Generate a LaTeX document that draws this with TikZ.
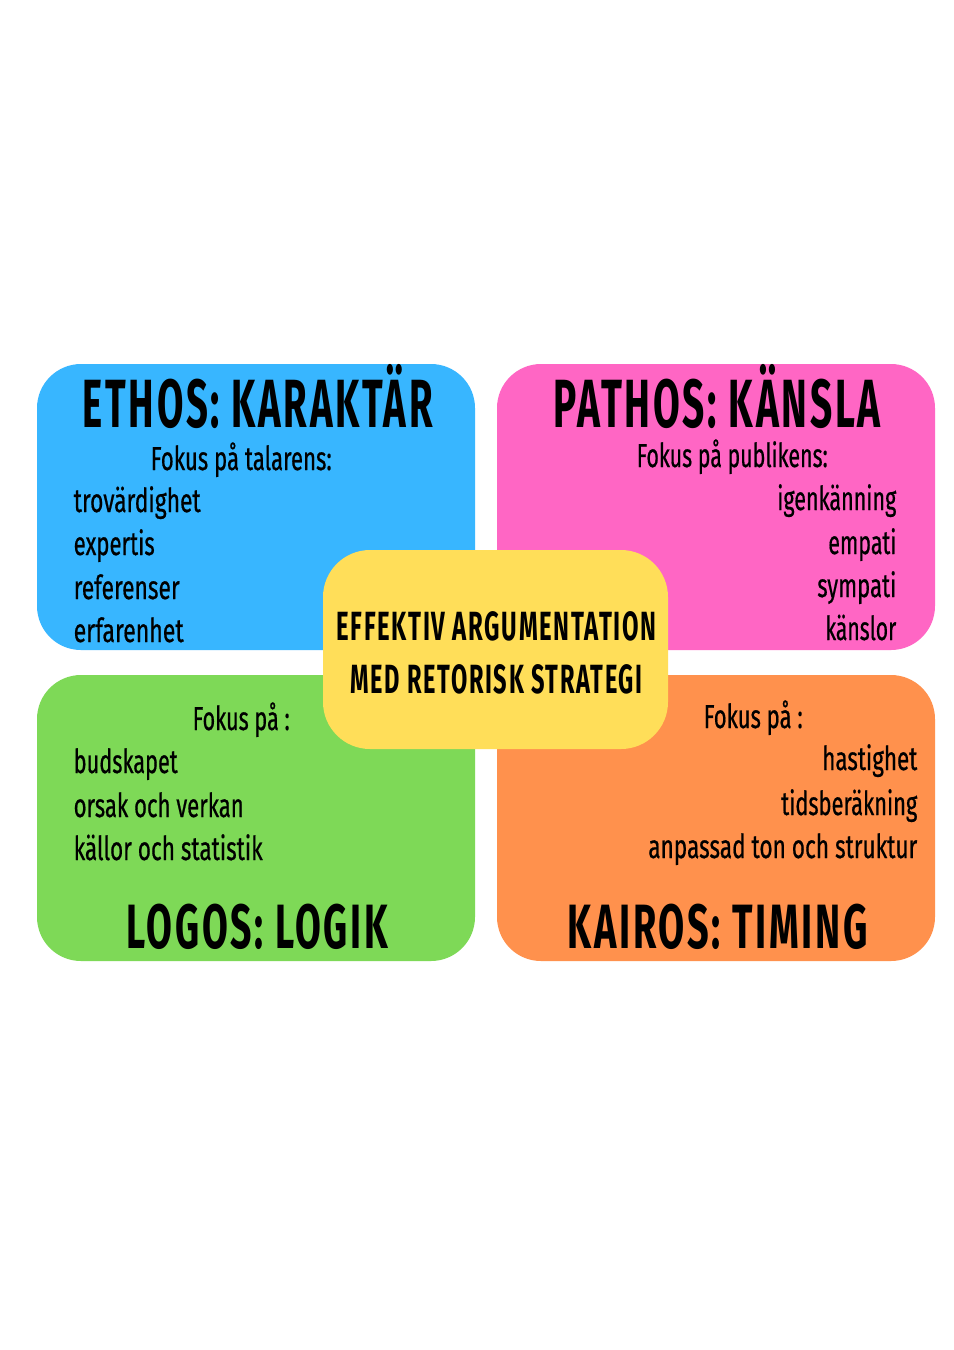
\documentclass[tikz,border=0pt]{standalone}
\usepackage{fontspec}
\usepackage{graphicx}
\setmainfont{Fira Sans}
\newfontfamily\medf[FakeBold=0.7]{Fira Sans}
\newfontfamily\ttlf[LetterSpace=7]{Fira Sans}
\newlength\pxu
\setlength\pxu{0.01cm}
\newcommand{\fw}[2]{\resizebox{#1\pxu}{\height}{#2}}
\definecolor{cblue}{HTML}{38B6FF}
\definecolor{cpink}{HTML}{FF66C4}
\definecolor{cgreen}{HTML}{7ED957}
\definecolor{corange}{HTML}{FF914D}
\definecolor{cyellow}{HTML}{FFDE59}
\tikzset{
  card/.style={rounded corners=0.44cm},
  txt/.style={inner sep=0pt, text=black},
  ttl/.style={txt, font=\ttlf\bfseries\fontsize{19.4}{22}\selectfont},
  ttlb/.style={txt, font=\ttlf\bfseries\fontsize{17.8}{20}\selectfont},
  ctr/.style={txt, font=\ttlf\bfseries\fontsize{11.6}{13}\selectfont},
  body/.style={txt, font=\medf\fontsize{9.4}{11}\selectfont},
}
\begin{document}
\begin{tikzpicture}[x=0.01cm,y=-0.01cm]
\useasboundingbox (0,0) rectangle (954,1350);
\fill[white] (0,0) rectangle (954,1350);
% cards
\fill[cblue,card] (37,364) rectangle (475,650);
\fill[cpink,card] (497,364) rectangle (935,650);
\fill[cgreen,card] (37,675) rectangle (475,961);
\fill[corange,card] (497,675) rectangle (935,961);
\fill[cyellow,rounded corners=0.47cm] (323,550) rectangle (668,749);
% ethos
\node[ttl,anchor=base west] (ethos) at (82,427) {\fw{350}{ETHOS: KARAKTÄR}};
\node[body,anchor=base west] (ethosf) at (150,470) {\fw{181}{Fokus på talarens:}};
\node[body,anchor=base west] (e1) at (73,512) {\fw{127}{trovärdighet}};
\node[body,anchor=base west] (e2) at (73,555) {\fw{81}{expertis}};
\node[body,anchor=base west] (e3) at (73,599) {\fw{106}{referenser}};
\node[body,anchor=base west] (e4) at (73,642) {\fw{110}{erfarenhet}};
% pathos
\node[ttl,anchor=base west] (pathos) at (553,427) {\fw{327}{PATHOS: KÄNSLA}};
\node[body,anchor=base west] (pathosf) at (636,467) {\fw{191}{Fokus på publikens:}};
\node[body,anchor=base east] (p1) at (897,510) {\fw{119}{igenkänning}};
\node[body,anchor=base east] (p2) at (897,554) {\fw{68}{empati}};
\node[body,anchor=base east] (p3) at (897,597) {\fw{79}{sympati}};
\node[body,anchor=base east] (p4) at (897,640) {\fw{71}{känslor}};
% logos
\node[body,anchor=base west] (logosf) at (192,730) {\fw{97}{Fokus på :}};
\node[body,anchor=base west] (l1) at (73,773) {\fw{104}{budskapet}};
\node[body,anchor=base west] (l2) at (73,817) {\fw{170}{orsak och verkan}};
\node[body,anchor=base west] (l3) at (73,860) {\fw{189}{källor och statistik}};
\node[ttlb,anchor=base west] (logos) at (126,948) {\fw{261}{LOGOS: LOGIK}};
% kairos
\node[body,anchor=base west] (kairosf) at (703,728) {\fw{99}{Fokus på :}};
\node[body,anchor=base east] (k1) at (918,770) {\fw{95}{hastighet}};
\node[body,anchor=base east] (k2) at (918,815) {\fw{136}{tidsberäkning}};
\node[body,anchor=base east] (k3) at (918,858) {\fw{269}{anpassad ton och struktur}};
\node[ttlb,anchor=base west] (kairos) at (567,948) {\fw{300}{KAIROS: TIMING}};
% center
\node[ctr,anchor=base west] (c1) at (336,640) {\fw{320}{EFFEKTIV ARGUMENTATION}};
\node[ctr,anchor=base west] (c2) at (350,693) {\fw{292}{MED RETORISK STRATEGI}};
\end{tikzpicture}
\end{document}
